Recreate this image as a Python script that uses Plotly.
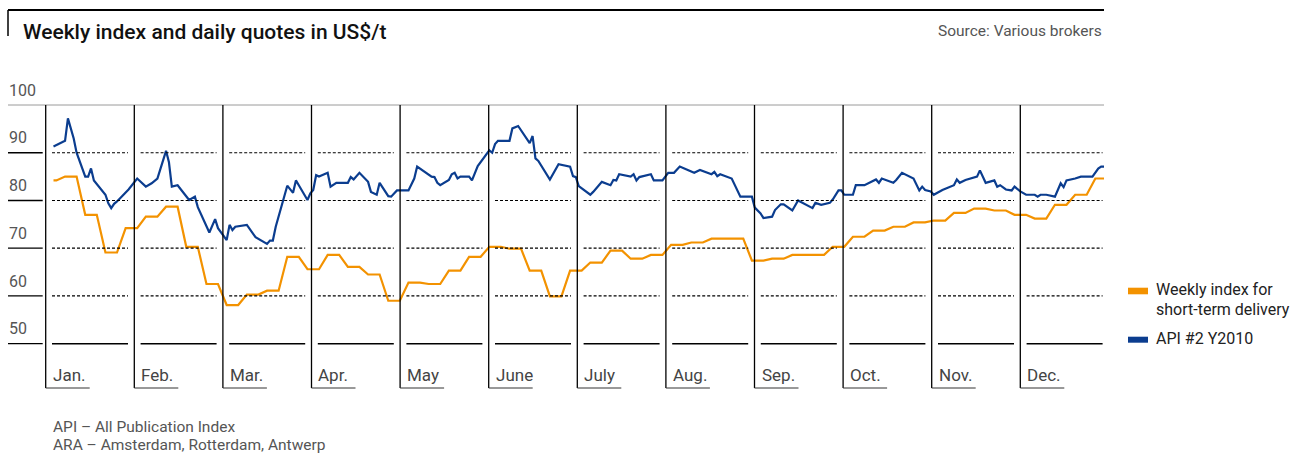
import numpy as np
import pandas as pd
import plotly.graph_objects as go

# ---------------- data ----------------
months = ["Jan.", "Feb.", "Mar.", "Apr.", "May", "June", "July",
          "Aug.", "Sep.", "Oct.", "Nov.", "Dec."]
y_ticks = [100, 90, 80, 70, 60, 50]
dashed_levels = [90, 80, 70, 60]
solid_levels = [50]

year_start = "2009-01-01"

# weekly index for short-term delivery (US$/t), week 0 = first partial week of the year
weekly_index = [84.2, 85.0, 77.0, 69.1, 74.2, 76.6, 78.7, 70.3, 62.5, 58.1,
                60.3, 61.1, 68.2, 65.6, 68.6, 66.1, 64.5, 59.0, 62.8, 62.5,
                65.3, 68.2, 70.3, 69.9, 65.3, 59.9, 65.3, 67.0, 69.5, 67.8,
                68.6, 70.7, 71.2, 72.0, 72.0, 67.4, 67.8, 68.6, 68.6, 70.3,
                72.4, 73.7, 74.5, 75.4, 75.8, 77.4, 78.3, 77.9, 77.0, 76.2,
                79.1, 81.2, 84.6]

# API #2 Y2010 daily quotes: days since 1 Jan and value (US$/t)
api2_day = [0, 4, 5, 7, 8, 11, 12, 13, 14, 18, 19, 20, 21, 22, 26, 29, 32, 34, 36,
            39, 40, 41, 43, 46, 47, 49, 50, 54, 56, 57, 60, 61, 62, 63, 67, 70, 74,
            75, 76, 77, 78, 81, 83, 84, 85, 88, 89, 90, 91, 92, 95, 96, 98, 102,
            103, 104, 106, 109, 110, 112, 113, 116, 117, 119, 123, 124, 125, 126,
            131, 132, 133, 134, 137, 138, 139, 140, 141, 144, 145, 147, 151, 152,
            153, 154, 158, 159, 161, 165, 166, 167, 168, 172, 175, 179, 180, 181,
            182, 186, 187, 190, 193, 194, 195, 196, 200, 201, 202, 203, 207, 208,
            211, 213, 215, 217, 220, 222, 224, 228, 229, 230, 231, 235, 238, 242,
            243, 244, 245, 246, 249, 250, 252, 253, 256, 258, 263, 264, 266, 269,
            270, 272, 273, 274, 277, 278, 281, 285, 286, 287, 291, 292, 294, 298,
            300, 301, 302, 304, 305, 308, 312, 313, 314, 316, 320, 321, 323, 326,
            327, 328, 330, 332, 333, 335, 337, 340, 341, 342, 344, 347, 349, 350,
            351, 354, 356, 360, 362, 363, 364]
api2_value = [91.3, 92.5, 97.2, 93.0, 90.0, 85.0, 85.0, 86.7, 84.2, 81.2, 79.4, 78.4,
              79.3, 79.8, 82.3, 84.6, 82.9, 83.6, 84.6, 90.4, 88.0, 82.9, 83.2, 80.8,
              80.1, 80.8, 78.6, 73.3, 76.1, 74.2, 71.7, 74.9, 73.8, 74.5, 74.9, 72.3,
              70.9, 71.6, 71.6, 74.5, 76.6, 83.1, 81.6, 84.2, 83.2, 80.1, 81.5, 82.2,
              85.3, 85.0, 85.8, 82.9, 83.7, 83.7, 84.9, 84.4, 85.8, 83.9, 81.8, 81.2,
              83.7, 80.9, 80.8, 82.1, 82.1, 83.4, 84.6, 87.1, 85.0, 84.9, 83.7, 83.2,
              84.3, 85.5, 85.8, 84.6, 85.0, 85.0, 84.2, 87.2, 90.5, 90.0, 91.8, 92.5,
              92.5, 95.1, 95.6, 92.0, 93.5, 88.8, 88.3, 84.4, 87.6, 87.1, 85.1, 84.9,
              83.0, 81.2, 81.8, 83.9, 83.2, 84.3, 84.2, 85.5, 85.0, 85.5, 84.2, 84.9,
              85.5, 84.2, 84.2, 85.8, 85.8, 87.1, 86.3, 85.8, 86.4, 85.5, 86.0, 85.1,
              85.5, 84.6, 80.8, 80.8, 78.5, 78.0, 77.3, 76.3, 76.6, 78.0, 79.2, 79.2,
              77.9, 80.0, 78.4, 79.5, 79.1, 79.5, 80.2, 82.1, 82.1, 81.2, 81.2, 83.2,
              83.2, 84.4, 83.7, 84.6, 83.7, 84.3, 85.8, 84.6, 82.1, 82.9, 82.2, 81.9,
              81.2, 82.2, 83.2, 84.4, 83.7, 84.3, 85.0, 86.3, 83.7, 84.2, 82.9, 83.2,
              82.3, 82.1, 82.9, 81.9, 81.2, 81.2, 80.8, 81.2, 81.2, 80.8, 83.6, 82.8,
              84.2, 84.6, 85.0, 85.0, 86.7, 87.1, 87.1]

# ---------------- derived series ----------------
t0 = pd.Timestamp(year_start)
first_wd = t0.weekday()
all_days = np.arange(365)
trading_days = [int(d) for d in all_days if (d + first_wd) % 7 < 5]
weekly_x = [t0 + pd.Timedelta(days=d) for d in trading_days]
weekly_y = [weekly_index[(d + first_wd) // 7] for d in trading_days]
api2_x = [t0 + pd.Timedelta(days=d) for d in api2_day]

# ---------------- layout geometry ----------------
W, H = 1304, 453
ORANGE = "#F39200"
BLUE = "#0B3D8F"
FONT = "Roboto"
GREY = "#555555"

PX_DAY0, PX_DAY = 53.5, 2.886          # horizontal scale of the time axis
PX_Y100, PX_UNIT = 105.0, 4.774         # vertical scale of the value axis
PX_M0, PX_MW = 45.7, 88.6               # month panels
PX_BOTTOM = 388                          # bottom of month brackets
PX_MLABEL = 375                          # month label centre


def yv(py):
    return 100 - (py - PX_Y100) / PX_UNIT


def xp(px):
    return px / W


def yp(py):
    return 1 - py / H


x_range = [str(t0 + pd.Timedelta(days=(0 - PX_DAY0) / PX_DAY)),
           str(t0 + pd.Timedelta(days=(W - PX_DAY0) / PX_DAY))]

fig = go.Figure()
fig.add_trace(go.Scatter(x=weekly_x, y=weekly_y, mode="lines",
                         line=dict(color=ORANGE, width=2.2),
                         name="Weekly index for short-term delivery"))
fig.add_trace(go.Scatter(x=api2_x, y=api2_value, mode="lines",
                         line=dict(color=BLUE, width=2.2), name="API #2 Y2010"))

shapes = []
annotations = []

# top frame
shapes.append(dict(type="line", xref="paper", yref="paper", x0=xp(8), x1=xp(1104),
                   y0=yp(10), y1=yp(10), line=dict(color="black", width=2)))
shapes.append(dict(type="line", xref="paper", yref="paper", x0=xp(8), x1=xp(8),
                   y0=yp(10), y1=yp(36), line=dict(color="black", width=1.5)))

# 100 line
shapes.append(dict(type="line", xref="paper", yref="y", x0=xp(8), x1=xp(1104),
                   y0=100, y1=100, line=dict(color="#9a9a9a", width=1)))

bottom_v = yv(PX_BOTTOM)
for lvl in dashed_levels + solid_levels:
    shapes.append(dict(type="line", xref="paper", yref="y", x0=xp(8), x1=xp(42.7),
                       y0=lvl, y1=lvl, line=dict(color="black", width=1.3)))

for i, m in enumerate(months):
    left = PX_M0 + PX_MW * i
    right = PX_M0 + PX_MW * (i + 1)
    shapes.append(dict(type="line", xref="paper", yref="y", x0=xp(left), x1=xp(left),
                       y0=100, y1=bottom_v, line=dict(color="black", width=1.3)))
    shapes.append(dict(type="line", xref="paper", yref="y", x0=xp(left), x1=xp(left + 44),
                       y0=bottom_v, y1=bottom_v, line=dict(color="#333333", width=1)))
    for lvl in dashed_levels:
        shapes.append(dict(type="line", xref="paper", yref="y", x0=xp(left + 6.3),
                           x1=xp(right - 6.3), y0=lvl, y1=lvl,
                           line=dict(color="black", width=1.2, dash="3px,2px")))
    for lvl in solid_levels:
        shapes.append(dict(type="line", xref="paper", yref="y", x0=xp(left + 6.3),
                           x1=xp(right - 6.3), y0=lvl, y1=lvl,
                           line=dict(color="black", width=1.5)))
    annotations.append(dict(text=m, xref="paper", yref="paper", x=xp(left + 5),
                            y=yp(PX_MLABEL), xanchor="left", yanchor="middle",
                            showarrow=False,
                            font=dict(family=FONT, size=17, color="#444444")))

for t in y_ticks:
    annotations.append(dict(text=str(t), xref="paper", yref="y", x=xp(7), y=t + 3.1,
                            xanchor="left", yanchor="middle", showarrow=False,
                            font=dict(family=FONT, size=16, color=GREY)))

# title and source
annotations.append(dict(text="Weekly index and daily quotes in US$/t", xref="paper",
                        yref="paper", x=xp(21), y=yp(32), xanchor="left",
                        yanchor="middle", showarrow=False,
                        font=dict(family=FONT, size=21, color="#111111", weight=500)))
annotations.append(dict(text="Source: Various brokers", xref="paper", yref="paper",
                        x=xp(1104), y=yp(31), xanchor="right", yanchor="middle",
                        showarrow=False, font=dict(family=FONT, size=15.5, color=GREY)))

# legend
shapes.append(dict(type="rect", xref="paper", yref="paper", x0=xp(1128), x1=xp(1148),
                   y0=yp(294.3), y1=yp(287.7), fillcolor=ORANGE, line=dict(width=0)))
shapes.append(dict(type="rect", xref="paper", yref="paper", x0=xp(1128), x1=xp(1148),
                   y0=yp(342.7), y1=yp(336.7), fillcolor=BLUE, line=dict(width=0)))
for txt, py in [("Weekly index for", 289), ("short-term delivery", 309),
                ("API #2 Y2010", 338)]:
    annotations.append(dict(text=txt, xref="paper", yref="paper", x=xp(1154), y=yp(py),
                            xanchor="left", yanchor="middle", showarrow=False,
                            font=dict(family=FONT, size=16, color="#222222")))

# footnotes
for txt, py in [("API – All Publication Index", 427),
                ("ARA – Amsterdam, Rotterdam, Antwerp", 445)]:
    annotations.append(dict(text=txt, xref="paper", yref="paper", x=xp(51), y=yp(py),
                            xanchor="left", yanchor="middle", showarrow=False,
                            font=dict(family=FONT, size=15.5, color=GREY)))

fig.update_layout(
    width=W, height=H, autosize=False,
    margin=dict(l=0, r=0, t=0, b=0, pad=0),
    paper_bgcolor="white", plot_bgcolor="white",
    showlegend=False,
    xaxis=dict(type="date", range=x_range, visible=False, fixedrange=True),
    yaxis=dict(range=[yv(H), yv(0)], visible=False, fixedrange=True),
    shapes=shapes, annotations=annotations,
    font=dict(family=FONT),
)

fig.write_html("out.html", config={"displayModeBar": False},
               post_script="document.body.style.margin='0';")
